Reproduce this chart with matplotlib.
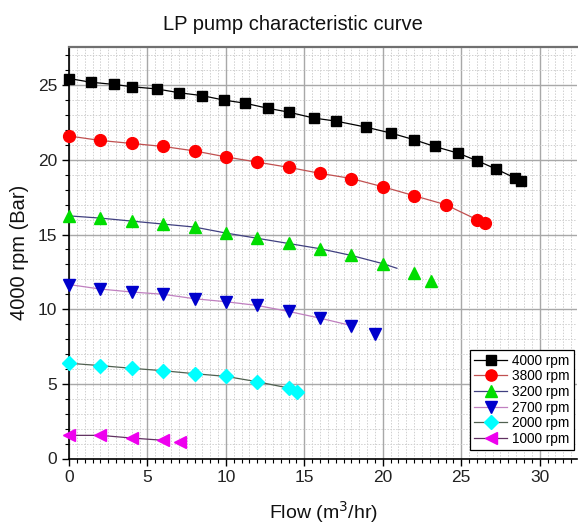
import numpy as np
import matplotlib
matplotlib.use("Agg")
import matplotlib.pyplot as plt
from matplotlib.lines import Line2D
from matplotlib.ticker import MultipleLocator

plt.rcParams['font.family'] = ['Liberation Sans', 'DejaVu Sans']

# ---- data ----
labels = ["4000 rpm", "3800 rpm", "3200 rpm", "2700 rpm", "2000 rpm", "1000 rpm"]

x_4000 = [0, 1.4, 2.9, 4.0, 5.6, 7.0, 8.5, 9.9, 11.2, 12.7, 14.0, 15.6, 17.0,
          18.9, 20.5, 22.0, 23.3, 24.8, 26.0, 27.2, 28.4, 28.8]
y_4000 = [25.45, 25.2, 25.05, 24.9, 24.75, 24.5, 24.3, 24.0, 23.8, 23.45, 23.2, 22.8, 22.6,
          22.2, 21.8, 21.35, 20.9, 20.45, 19.95, 19.4, 18.8, 18.6]

x_3800 = [0, 2, 4, 6, 8, 10, 12, 14, 16, 18, 20, 22, 24, 26, 26.5]
y_3800 = [21.6, 21.3, 21.1, 20.9, 20.6, 20.2, 19.85, 19.5, 19.1, 18.75, 18.2, 17.6, 17.0, 16.0, 15.75]

x_3200 = [0, 2, 4, 6, 8, 10, 12, 14, 16, 18, 20, 22, 23.1]
y_3200 = [16.25, 16.1, 15.9, 15.7, 15.5, 15.1, 14.75, 14.4, 14.05, 13.6, 13.05, 12.4, 11.9]

x_2700 = [0, 2, 4, 6, 8, 10, 12, 14, 16, 18, 19.5]
y_2700 = [11.65, 11.35, 11.15, 11.0, 10.7, 10.5, 10.25, 9.85, 9.4, 8.9, 8.35]

x_2000 = [0, 2, 4, 6, 8, 10, 12, 14, 14.55]
y_2000 = [6.38, 6.22, 6.04, 5.88, 5.68, 5.5, 5.14, 4.72, 4.43]

x_1000 = [0, 2, 4, 6, 7.1]
y_1000 = [1.55, 1.55, 1.37, 1.22, 1.08]

# number of measured points joined by the trend line, and extra line end points
line_points = [22, 15, 11, 10, 9, 4]
line_tail_x = [None, None, 20.9, None, None, None]
line_tail_y = [None, None, 12.74, None, None, None]

xs = [x_4000, x_3800, x_3200, x_2700, x_2000, x_1000]
ys = [y_4000, y_3800, y_3200, y_2700, y_2000, y_1000]

# ---- styles ----
markers = ['s', 'o', '^', 'v', 'D', '<']
msizes = [7.5, 8.5, 9, 9, 7.5, 9]
mcolors = ['#000000', '#ff0000', '#00dd00', '#0000cc', '#00ffff', '#ee00ee']
lcolors = ['#000000', '#c05050', '#404080', '#c080c0', '#506050', '#603060']

fig = plt.figure(figsize=(5.78, 5.24), dpi=100)
ax = fig.add_axes([69/578, 65.5/524, 508/578, 411.8/524])

for i in range(6):
    n = line_points[i]
    lx = list(xs[i][:n])
    ly = list(ys[i][:n])
    if line_tail_x[i] is not None:
        lx.append(line_tail_x[i])
        ly.append(line_tail_y[i])
    ax.plot(lx, ly, '-', color=lcolors[i], lw=0.9, zorder=3)
    ax.plot(xs[i], ys[i], linestyle='none', marker=markers[i], ms=msizes[i],
            mfc=mcolors[i], mec=mcolors[i], zorder=4, clip_on=False)

ax.set_xlim(0, 32.38)
ax.set_ylim(0, 27.58)
ax.xaxis.set_major_locator(MultipleLocator(5))
ax.xaxis.set_minor_locator(MultipleLocator(0.5))
ax.yaxis.set_major_locator(MultipleLocator(5))
ax.yaxis.set_minor_locator(MultipleLocator(1))

ax.grid(which='major', color='#a8a8a8', lw=1.0, ls='-', zorder=0)
ax.grid(which='minor', color='#d0d0d0', lw=0.7, ls=(0, (1.5, 1.5)), zorder=0)
ax.set_axisbelow(True)

ax.tick_params(which='major', direction='out', length=5, width=1, labelsize=12.5,
               colors='#000000', labelcolor='#222222')
ax.tick_params(which='minor', direction='out', length=2.8, width=0.8)

for s in ['left', 'bottom']:
    ax.spines[s].set_color('black')
    ax.spines[s].set_linewidth(1.2)
ax.spines['top'].set_color('#707070')
ax.spines['top'].set_linewidth(1.6)
ax.spines['right'].set_visible(False)

ax.set_xlabel('Flow (m$^3$/hr)', fontsize=14, labelpad=10, color='#111111')
ax.set_ylabel('4000 rpm (Bar)', fontsize=14.5, labelpad=6, color='#111111')
fig.text(0.506, 0.954, 'LP pump characteristic curve', fontsize=14.5,
         ha='center', va='center', color='#111111')

handles = [Line2D([], [], color=lcolors[i], lw=0.9, marker=markers[i], ms=msizes[i] * 0.95,
                  mfc=mcolors[i], mec=mcolors[i]) for i in range(6)]
leg = ax.legend(handles, labels, loc='lower right', bbox_to_anchor=(0.994, 0.021),
                borderaxespad=0, fontsize=9.8, fancybox=False, framealpha=1,
                edgecolor='black', labelspacing=0.12, handlelength=2.4,
                handletextpad=0.4, borderpad=0.3)
leg.get_frame().set_linewidth(0.9)
leg.set_zorder(10)

fig.savefig('out.png', dpi=100)
